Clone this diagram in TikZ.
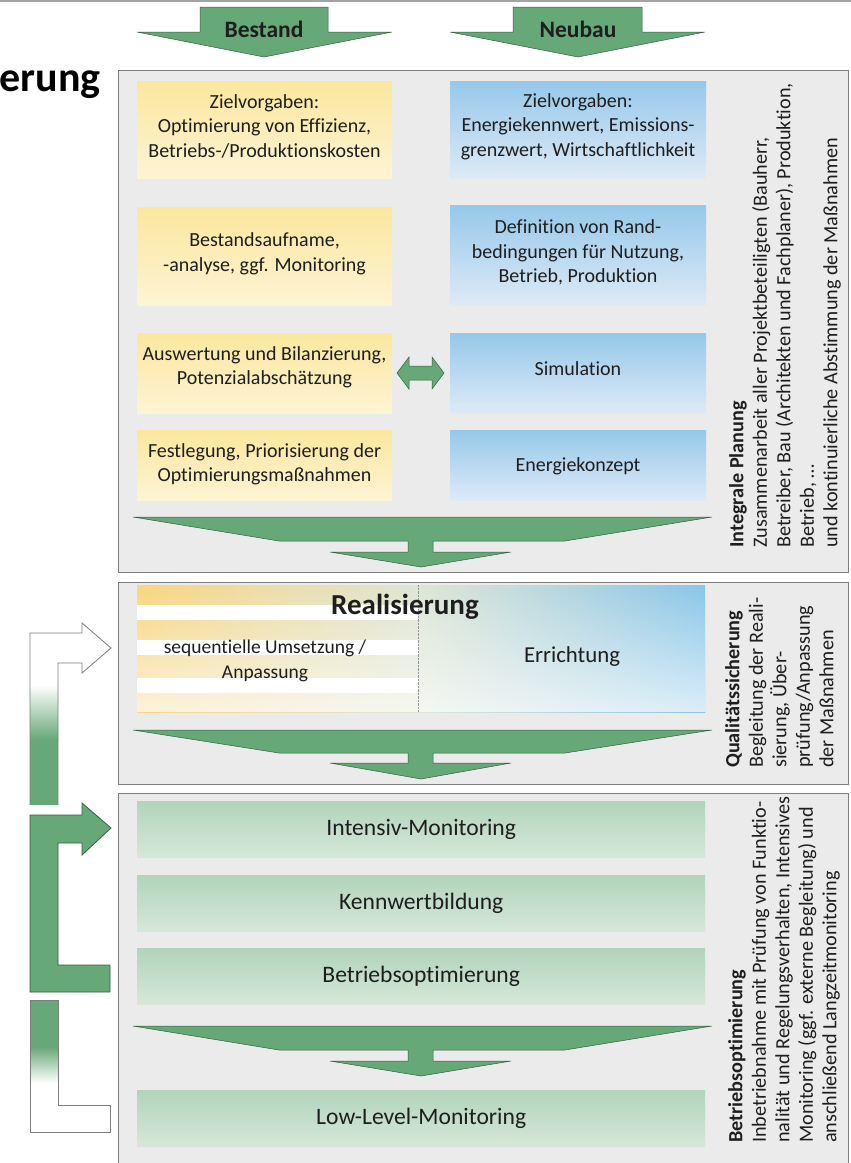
\documentclass[tikz,border=0pt]{standalone}
\usepackage{fontspec}
\setmainfont{Carlito}[Ligatures=NoCommon]
\usetikzlibrary{fadings}
\definecolor{arrowgreen}{RGB}{102,168,119}
\definecolor{arrowedge}{RGB}{55,95,68}
\definecolor{panelgray}{RGB}{235,235,235}
\definecolor{paneledge}{RGB}{125,125,125}
\definecolor{yeltop}{RGB}{251,231,158}
\definecolor{yelbot}{RGB}{253,244,212}
\definecolor{bluetop}{RGB}{150,200,234}
\definecolor{bluebot}{RGB}{222,234,246}
\definecolor{grntop}{RGB}{178,212,186}
\definecolor{grnbot}{RGB}{214,231,217}
\definecolor{txt}{RGB}{30,30,30}
\definecolor{realyel}{RGB}{249,214,128}
\definecolor{realmid}{RGB}{222,230,214}
\definecolor{realblue}{RGB}{138,198,233}
\begin{document}
\begin{tikzpicture}[x=1pt,y=-1pt,
  every node/.style={inner sep=0pt, text=txt},
  bodyfont/.style={font=\fontsize{20}{24.5}\selectfont},
  greenfont/.style={font=\fontsize{23.6}{28}\selectfont},
  panel/.style={draw=paneledge, line width=1pt, fill=panelgray, anchor=north west},
  ybox/.style={anchor=north west, top color=yeltop, bottom color=yelbot, minimum width=255pt},
  bbox/.style={anchor=north west, top color=bluetop, bottom color=bluebot, minimum width=256pt},
  gbox/.style={greenfont, anchor=north west, top color=grntop, bottom color=grnbot, align=center, minimum width=568pt, minimum height=56pt},
  boxtext/.style={bodyfont, align=center},
  sidetext/.style={font=\fontsize{20.2}{23.5}\selectfont, align=left, rotate=90, anchor=north west},
  bigarrow/.style={fill=arrowgreen, draw=arrowedge, line width=0.5pt},
  toparrowlabel/.style={font=\fontsize{23.5}{28}\selectfont\bfseries}
]
\useasboundingbox (0,0) rectangle (851,1163);
\fill[white] (0,0) rectangle (851,1163);
\draw[paneledge!70, line width=1.2pt] (0,1) -- (851,1);

% title fragment
\node[anchor=base east, font=\fontsize{42}{46}\selectfont\bfseries, text=black] (title) at (101,91) {erung};

% top arrows
\draw[bigarrow] (200,7) -- (328,7) -- (328,32) -- (392,32) -- (264,57) -- (137,32) -- (200,32) -- cycle;
\node[toparrowlabel] (bestand) at (264,29) {Bestand};
\draw[bigarrow] (513,7) -- (642,7) -- (642,32) -- (705,32) -- (578,57) -- (450,32) -- (513,32) -- cycle;
\node[toparrowlabel] (neubau) at (578,29) {Neubau};

% panels
\node[panel, minimum width=730pt, minimum height=502pt] (p1) at (118,70) {};
\node[panel, minimum width=730pt, minimum height=202pt] (p2) at (118,582) {};
\node[panel, minimum width=730pt, minimum height=390pt] (p3) at (118,793) {};

% panel 1 boxes
\node[ybox, minimum height=97pt] (y1) at (137,81) {};
\node[boxtext] (y1t) at (264.5,126) {Zielvorgaben:\\Optimierung von Effizienz,\\Betriebs-/Produktionskosten};
\node[bbox, minimum height=97pt] (b1) at (450,81) {};
\node[boxtext] (b1t) at (578,126.5) {Zielvorgaben:\\Energiekennwert, Emissions-\\grenzwert, Wirtschaftlichkeit};
\node[ybox, minimum height=98pt] (y2) at (137,207) {};
\node[boxtext] (y2t) at (264.5,254) {Bestandsaufname,\\-analyse, ggf. Monitoring};
\node[bbox, minimum height=100pt] (b2) at (450,205) {};
\node[boxtext] (b2t) at (578,252.5) {Definition von Rand-\\bedingungen für Nutzung,\\Betrieb, Produktion};
\node[ybox, minimum height=80pt] (y3) at (137,333) {};
\node[boxtext] (y3t) at (264.5,367.5) {Auswertung und Bilanzierung,\\Potenzialabschätzung};
\node[bbox, minimum height=80pt] (b3) at (450,333) {};
\node[boxtext] (b3t) at (578,369) {Simulation};
\node[ybox, minimum height=70pt] (y4) at (137,430) {};
\node[boxtext] (y4t) at (264.5,464.5) {Festlegung, Priorisierung der\\Optimierungsmaßnahmen};
\node[bbox, minimum height=70pt] (b4) at (450,430) {};
\node[boxtext] (b4t) at (578,466) {Energiekonzept};

% double arrow
\draw[bigarrow] (397,373) -- (409,357) -- (409,366) -- (432,366) -- (432,357) -- (444,373) -- (432,389) -- (432,380) -- (409,380) -- (409,389) -- cycle;

% wide arrow panel 1
\draw[bigarrow] (133,517) -- (712,517) -- (565,541) -- (433,541) -- (433,552) -- (511,552) -- (421,567) -- (330,552) -- (408,552) -- (408,541) -- (279,541) -- cycle;

% panel 2: Realisierung
\node[anchor=north west, minimum width=568pt, minimum height=127pt, left color=realyel, right color=realblue, middle color=realmid] (real) at (137,585) {};
\fill[white, opacity=0.7, path fading=north] (137,585) rectangle (705,712);
\fill[white] (137,605) rectangle (418,620);
\fill[white] (137,640) rectangle (418,655);
\fill[white] (137,678) rectangle (418,693);
\draw[paneledge!80, line width=0.4pt, densely dotted] (real.north) ++(-3,0) coordinate (dtop) -- (dtop |- real.south);
\node[font=\fontsize{29}{32}\selectfont\bfseries] (realtitle) at (405,607) {Realisierung};
\node[font=\fontsize{19.5}{25}\selectfont, align=center] (seq) at (265,660.5) {sequentielle Umsetzung /\\Anpassung};
\node[font=\fontsize{22.8}{26}\selectfont] (err) at (572,657) {Errichtung};

\draw[bigarrow] (133,730) -- (712,730) -- (565,753) -- (433,753) -- (433,763) -- (511,763) -- (421,779) -- (330,763) -- (408,763) -- (408,753) -- (279,753) -- cycle;

% panel 3 boxes
\node[gbox] (g1) at (137,801) {Intensiv-Monitoring};
\node[gbox] (g2) at (137,875) {Kennwertbildung};
\node[gbox] (g3) at (137,948) {Betriebsoptimierung};
\node[gbox] (g4) at (137,1090) {Low-Level-Monitoring};

\draw[bigarrow] (133,1026) -- (712,1026) -- (565,1050) -- (433,1050) -- (433,1061) -- (511,1061) -- (421,1076) -- (330,1061) -- (408,1061) -- (408,1050) -- (279,1050) -- cycle;

% side texts
\node[sidetext] (s1) at (729,548) {\textbf{Integrale Planung}\\Zusammenarbeit aller Projektbeteiligten (Bauherr,\\Betreiber, Bau (Architekten und Fachplaner), Produktion,\\Betrieb, \dots\\und kontinuierliche Abstimmung der Maßnahmen};
\node[sidetext] (s2) at (725,768) {\textbf{Qualitätssicherung}\\Begleitung der Reali-\\sierung, Über-\\prüfung/Anpassung\\der Maßnahmen};
\node[sidetext] (s3) at (728,1143) {\textbf{Betriebsoptimierung}\\Inbetriebnahme mit Prüfung von Funktio-\\nalität und Regelungsverhalten, Intensives\\Monitoring (ggf. externe Begleitung) und\\anschließend Langzeitmonitoring};

% left feedback arrows
\fill[white] (30,633) -- (82,633) -- (82,623) -- (111,648) -- (82,673) -- (82,663) -- (58,663) -- (58,805) -- (30,805) -- cycle;
\fill[top color=white, bottom color=arrowgreen] (30,685) rectangle (58,740);
\fill[arrowgreen] (30,740) rectangle (58,805);
\draw[paneledge, line width=0.8pt] (30,805) -- (30,633) -- (82,633) -- (82,623) -- (111,648) -- (82,673) -- (82,663) -- (58,663) -- (58,805);

\draw[bigarrow, line width=0.8pt] (30,815) -- (82,815) -- (82,803) -- (111,828) -- (82,855) -- (82,843) -- (58,843) -- (58,965) -- (110,965) -- (110,992) -- (30,992) -- cycle;

\fill[white] (30,1000) -- (58,1000) -- (58,1105) -- (110,1105) -- (110,1132) -- (30,1132) -- cycle;
\fill[arrowgreen] (30,1000) rectangle (58,1047);
\fill[top color=arrowgreen, bottom color=white] (30,1047) rectangle (58,1083);
\draw[paneledge, line width=0.8pt] (30,1000) -- (58,1000) -- (58,1105) -- (110,1105) -- (110,1132) -- (30,1132) -- cycle;
\end{tikzpicture}
\end{document}
